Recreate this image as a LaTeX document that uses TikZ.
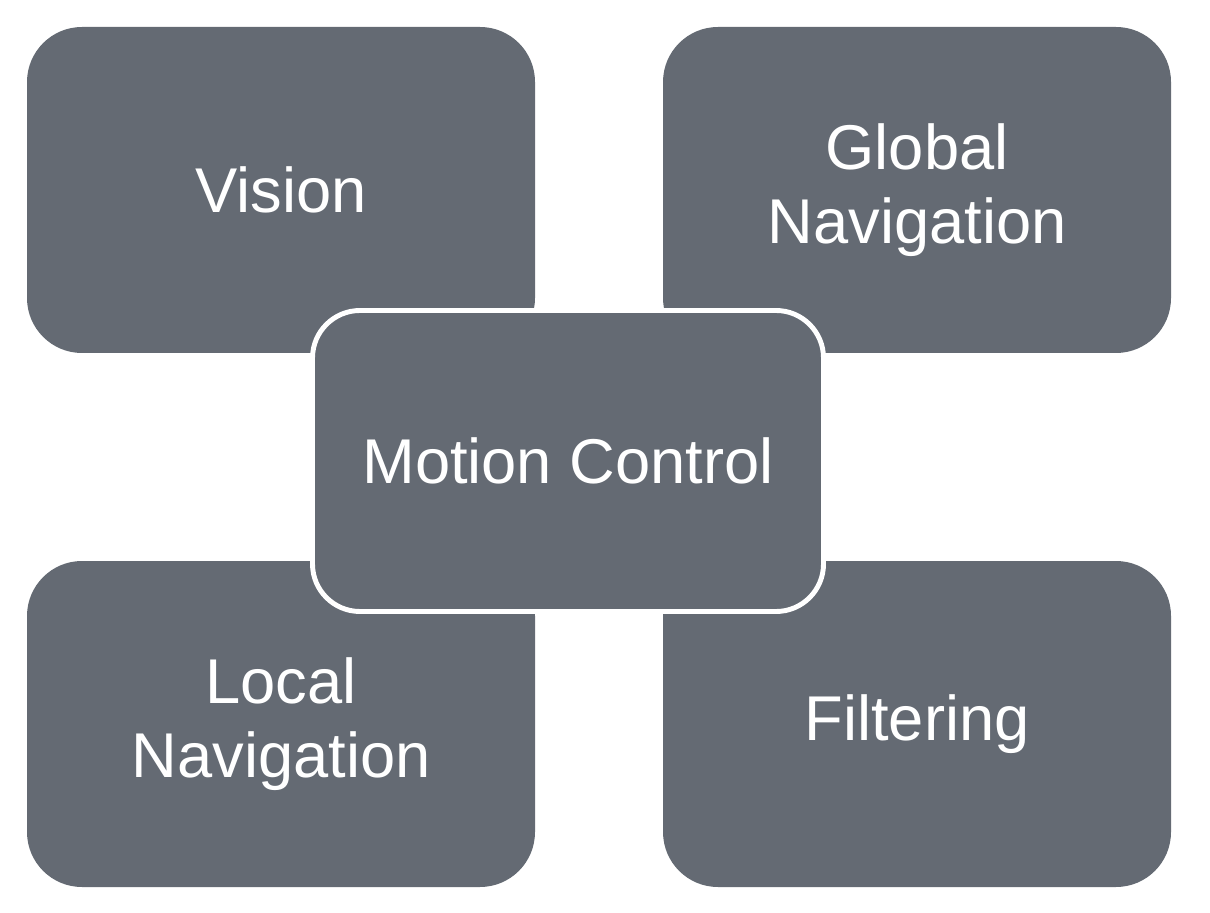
\documentclass[tikz,border=0pt]{standalone}
\usepackage{fontspec}
\setmainfont{Liberation Sans}
\usepackage{tikz}
\usetikzlibrary{positioning}
\definecolor{boxgray}{HTML}{646A73}
\tikzset{
  topic/.style={fill=boxgray, rounded corners=1.1cm, minimum width=10.16cm, minimum height=6.52cm,
    text=white, align=center, font=\fontsize{36}{42}\selectfont, inner sep=0pt},
  hub/.style={topic, draw=white, line width=2.8pt, rounded corners=0.95cm,
    minimum width=10.22cm, minimum height=6.02cm}
}

\begin{document}
\begin{tikzpicture}
        \useasboundingbox (0,0) rectangle (24.2,18.24);
        \node[topic] (vision) at (5.62,14.44) {Vision};
        \node[topic] (global) at (18.34,14.44) {Global\\Navigation};
        \node[topic] (local) at (5.62,3.76) {Local\\Navigation};
        \node[topic] (filter) at (18.34,3.76) {Filtering};
        \node[hub] (motion) at (11.36,9.02) {Motion Control};
\end{tikzpicture}
\end{document}
